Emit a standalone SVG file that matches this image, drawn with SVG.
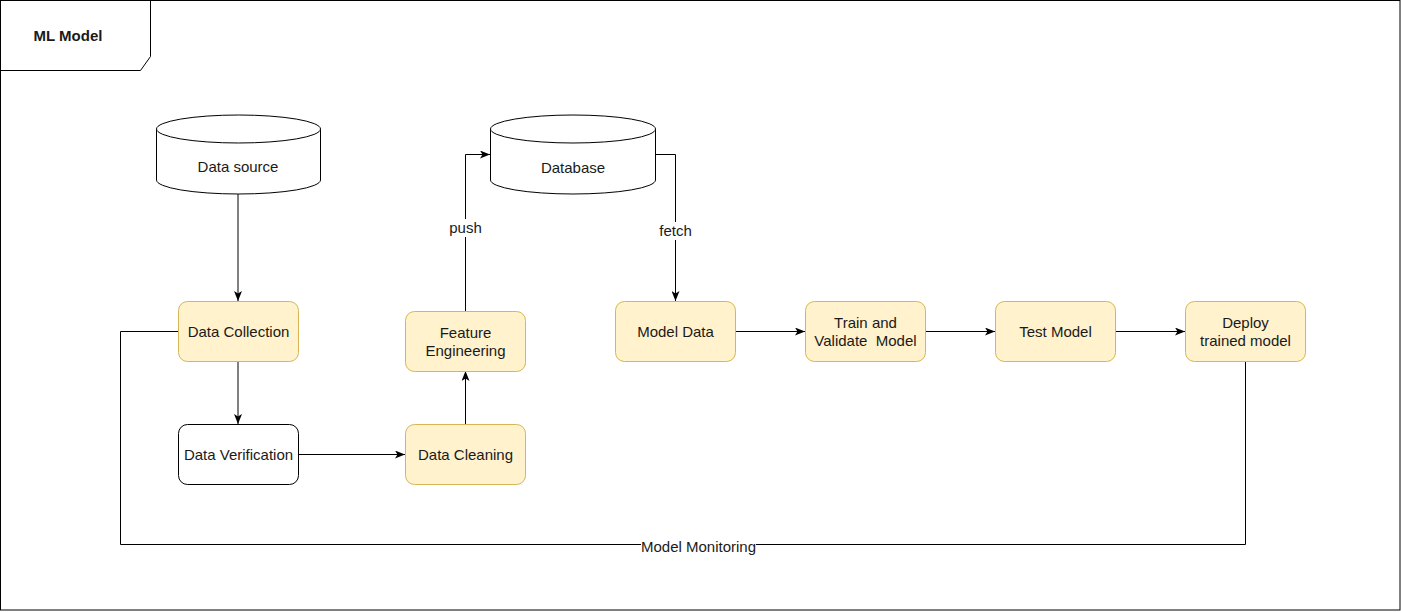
<svg xmlns="http://www.w3.org/2000/svg" width="1401" height="612" viewBox="0 0 1401 612">
<style>
  text { font-family: "Liberation Sans", Arial, sans-serif; font-size: 15px; fill: #1a1a1a; text-anchor: middle; }
  .box { fill: #fff2cc; stroke: #d6b656; stroke-width: 1; }
  .wbox { fill: #ffffff; stroke: #000000; stroke-width: 1; }
  .cyl { fill: #ffffff; stroke: #000000; stroke-width: 1; }
  .edge { fill: none; stroke: #000000; stroke-width: 1; }
  .lblbg { fill: #ffffff; }
</style>
<defs>
  <marker id="arr" viewBox="0 0 10 8" refX="10" refY="4" markerWidth="10" markerHeight="8" markerUnits="userSpaceOnUse" orient="auto">
    <path d="M0,0 L10,4 L0,8 L2.5,4 Z" fill="#000000"/>
  </marker>
</defs>
<rect x="0" y="0" width="1401" height="612" fill="#ffffff"/>
<g id="frame">
  <rect x="0.5" y="0.5" width="1399.5" height="609.5" fill="none" stroke="#000000"/>
  <path d="M0.5,70.5 L140.5,70.5 L150.5,56.5 L150.5,0.5" fill="none" stroke="#000000"/>
  <text x="68" y="41" style="font-weight:bold">ML Model</text>
</g>
<g id="connectors">
  <path class="edge" d="M238,194 L238,301" marker-end="url(#arr)"/>
  <path class="edge" d="M238,361 L238,424" marker-end="url(#arr)"/>
  <path class="edge" d="M298,454.5 L405,454.5" marker-end="url(#arr)"/>
  <path class="edge" d="M465.5,424 L465.5,371" marker-end="url(#arr)"/>
  <path class="edge" d="M465.5,311 L465.5,154.5 L490,154.5" marker-end="url(#arr)"/>
  <path class="edge" d="M655,154.5 L675.5,154.5 L675.5,301" marker-end="url(#arr)"/>
  <path class="edge" d="M735,331.5 L805,331.5" marker-end="url(#arr)"/>
  <path class="edge" d="M925,331.5 L995,331.5" marker-end="url(#arr)"/>
  <path class="edge" d="M1115,331.5 L1185,331.5" marker-end="url(#arr)"/>
  <path class="edge" d="M1245.5,361 L1245.5,544.5 L120.5,544.5 L120.5,331.5 L178,331.5"/>
  <rect class="lblbg" x="448" y="219" width="35" height="18"/>
  <text x="465.5" y="233">push</text>
  <rect class="lblbg" x="657" y="222" width="38" height="18"/>
  <text x="675.5" y="236">fetch</text>
  <rect class="lblbg" x="641" y="538" width="115" height="17"/>
  <text x="698.5" y="552">Model Monitoring</text>
</g>
<g id="data-source">
  <path class="cyl" d="M156.5,129 A82,14 0 0 1 320.5,129 L320.5,180 A82,14 0 0 1 156.5,180 Z"/>
  <path class="cyl" d="M156.5,129 A82,14 0 0 0 320.5,129" fill="none"/>
  <text x="238" y="172">Data source</text>
</g>
<g id="database">
  <path class="cyl" d="M490.5,129 A82.5,14 0 0 1 655.5,129 L655.5,180 A82.5,14 0 0 1 490.5,180 Z"/>
  <path class="cyl" d="M490.5,129 A82.5,14 0 0 0 655.5,129" fill="none"/>
  <text x="573" y="173">Database</text>
</g>
<g id="data-collection">
  <rect class="box" x="178.5" y="301.5" width="120" height="60" rx="9" ry="9"/>
  <text x="238.5" y="337">Data Collection</text>
</g>
<g id="data-verification">
  <rect class="wbox" x="178.5" y="424.5" width="120" height="60" rx="9" ry="9"/>
  <text x="238.5" y="460">Data Verification</text>
</g>
<g id="data-cleaning">
  <rect class="box" x="405.5" y="424.5" width="120" height="60" rx="9" ry="9"/>
  <text x="465.5" y="460">Data Cleaning</text>
</g>
<g id="feature-engineering">
  <rect class="box" x="405.5" y="311.5" width="120" height="60" rx="9" ry="9"/>
  <text x="465.5" y="338">Feature</text>
  <text x="465.5" y="356">Engineering</text>
</g>
<g id="model-data">
  <rect class="box" x="615.5" y="301.5" width="120" height="60" rx="9" ry="9"/>
  <text x="675.5" y="337">Model Data</text>
</g>
<g id="train-validate">
  <rect class="box" x="805.5" y="301.5" width="120" height="60" rx="9" ry="9"/>
  <text x="865.5" y="328">Train and</text>
  <text x="865.5" y="346" xml:space="preserve">Validate  Model</text>
</g>
<g id="test-model">
  <rect class="box" x="995.5" y="301.5" width="120" height="60" rx="9" ry="9"/>
  <text x="1055.5" y="337">Test Model</text>
</g>
<g id="deploy">
  <rect class="box" x="1185.5" y="301.5" width="120" height="60" rx="9" ry="9"/>
  <text x="1245.5" y="328">Deploy</text>
  <text x="1245.5" y="346">trained model</text>
</g>
</svg>
